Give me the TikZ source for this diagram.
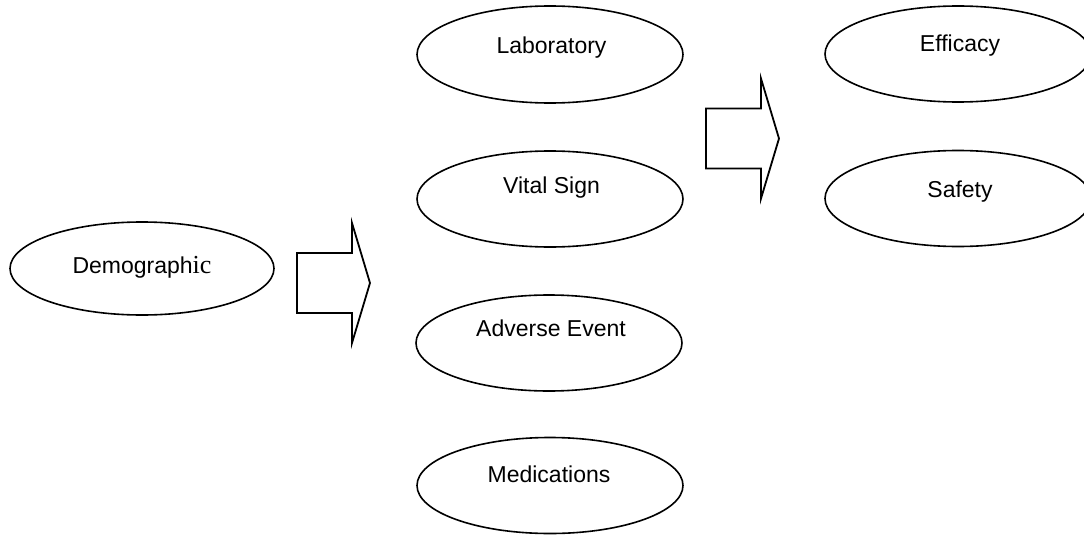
\documentclass[tikz,border=0pt]{standalone}
\usepackage{fontspec}
\setmainfont{Liberation Sans}
\newfontfamily\serific{Liberation Serif}
\usetikzlibrary{shapes.geometric}
\begin{document}
\begin{tikzpicture}[x=1pt,y=-1pt,
  ell/.style={draw, line width=1.6pt, ellipse, minimum width=266pt, minimum height=96pt, inner sep=0pt},
  txt/.style={font=\fontsize{23}{27}\selectfont, anchor=base, inner sep=0pt},
  blk/.style={draw, line width=1.8pt, line join=miter},
  pics/blockarrow/.style={code={
    \draw[blk] (0,-30) -- (55,-30) -- (55,-60) -- (73,0) -- (55,60) -- (55,30) -- (0,30) -- cycle;}}]
\useasboundingbox (0,0) rectangle (1084,535);
% ellipses
\node[ell, minimum width=264pt, minimum height=93pt] (demo) at (142,268.5) {};
\node[ell, minimum height=97pt] (lab) at (550,54.5) {};
\node[ell] (vital) at (550,199) {};
\node[ell] (adv) at (549,343) {};
\node[ell] (med) at (550,485.5) {};
\node[ell] (eff) at (958,54) {};
\node[ell] (saf) at (958,198.5) {};
% texts
\node[txt] (demot) at (142,273) {Demograph{\serific\fontsize{26}{28}\selectfont ic}};
\node[txt] (labt) at (551.5,53) {Laboratory};
\node[txt] (vitalt) at (551.5,193.5) {Vital Sign};
\node[txt] (advt) at (551,336) {Adverse Event};
\node[txt] (medt) at (549,482) {Medications};
\node[txt] (efft) at (960,52) {Efficacy};
\node[txt] (saft) at (960,197) {Safety};
% block arrows
\coordinate (a1) at (297,283);
\coordinate (a2) at (706,138.5);
\pic at (a1) {blockarrow};
\pic at (a2) {blockarrow};
\end{tikzpicture}
\end{document}
